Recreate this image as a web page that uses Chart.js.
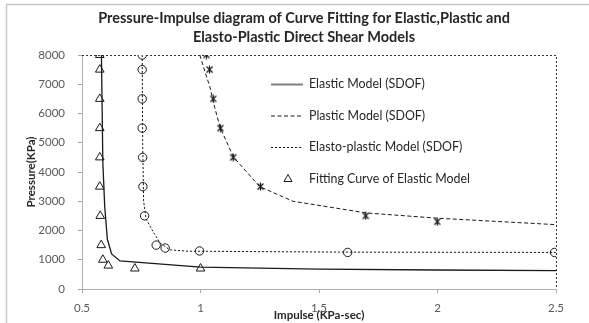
<!DOCTYPE html>
<html>
<head>
<meta charset="utf-8">
<script src="https://cdn.jsdelivr.net/npm/chart.js@4.4.1/dist/chart.umd.min.js"></script>
<style>
  html, body { margin: 0; padding: 0; background: #ffffff; }
  #wrap { width: 589px; height: 323px; position: relative; }
</style>
</head>
<body>
<div id="wrap"><canvas id="chart" width="589" height="323"></canvas></div>
<script>
// Elastic model (SDOF) curve
const elasticImpulse  = [0.582, 0.588, 0.596, 0.607, 0.625, 0.66, 1.0, 1.5, 2.0, 2.5];
const elasticPressure = [8000, 4300, 2800, 1700, 1200, 960, 750, 680, 650, 630];

// Plastic model (SDOF) curve
const plasticImpulse  = [0.997, 1.02, 1.04, 1.06, 1.084, 1.14, 1.25, 1.39, 1.7, 2.0, 2.5];
const plasticPressure = [8000, 7400, 6900, 6200, 5500, 4500, 3500, 3000, 2600, 2420, 2200];

// Elasto-plastic model (SDOF) curve
const elastoImpulse  = [0.754, 0.756, 0.76, 0.77, 0.8, 0.83, 0.87, 0.95, 1.0, 1.62, 2.5];
const elastoPressure = [8000, 5000, 3000, 2400, 1960, 1570, 1340, 1290, 1290, 1260, 1250];

// Fitting curve of elastic model (triangles)
const fitImpulse  = [0.575, 0.575, 0.575, 0.575, 0.575, 0.575, 0.577, 0.581, 0.588, 0.611, 0.723, 1.0];
const fitPressure = [8000, 7500, 6500, 5500, 4500, 3500, 2500, 1500, 1000, 800, 700, 700];

// Plastic model sample points (asterisks)
const plasticPtImpulse  = [1.025, 1.038, 1.054, 1.084, 1.138, 1.253, 1.697, 1.999];
const plasticPtPressure = [8000, 7500, 6500, 5500, 4500, 3500, 2500, 2300];

// Elasto-plastic model sample points (circles)
const elastoPtImpulse  = [0.754, 0.754, 0.754, 0.754, 0.756, 0.757, 0.764, 0.813, 0.851, 0.996, 1.621, 2.494];
const elastoPtPressure = [8000, 7500, 6500, 5500, 4500, 3500, 2500, 1500, 1400, 1300, 1250, 1250];

// Axis ticks
const xTicks = [0.5, 1, 1.5, 2, 2.5];
const yTicks = [0, 1000, 2000, 3000, 4000, 5000, 6000, 7000, 8000];

const titleLines = [
  'Pressure-Impulse diagram of Curve Fitting for Elastic,Plastic and',
  'Elasto-Plastic Direct Shear Models'
];

const FONT = 'Lato, "Open Sans", sans-serif';
const INK = '#1a1a1a';

function pts(xs, ys) { return xs.map((x, i) => ({ x: x, y: ys[i] })); }

// asterisk marker: an X crossed by a vertical stroke
function asteriskMarker() {
  const c = document.createElement('canvas');
  c.width = 9; c.height = 9;
  const g = c.getContext('2d');
  g.strokeStyle = INK; g.lineWidth = 1.2;
  g.beginPath();
  g.moveTo(1.5, 1.5); g.lineTo(7.5, 7.5);
  g.moveTo(7.5, 1.5); g.lineTo(1.5, 7.5);
  g.moveTo(4.5, 0.5); g.lineTo(4.5, 8.5);
  g.stroke();
  return c;
}

const datasets = [
  { label: 'Elastic Model (SDOF)', data: pts(elasticImpulse, elasticPressure),
    showLine: true, borderColor: INK, borderWidth: 1.3, pointRadius: 0, legendItem: true },
  { label: 'Plastic Model (SDOF)', data: pts(plasticImpulse, plasticPressure),
    showLine: true, borderColor: INK, borderWidth: 1, borderDash: [4, 2.5], pointRadius: 0, legendItem: true },
  { label: 'Elasto-plastic Model (SDOF)', data: pts(elastoImpulse, elastoPressure),
    showLine: true, borderColor: INK, borderWidth: 1, borderDash: [2.2, 1.8], pointRadius: 0, legendItem: true },
  { label: 'Fitting Curve of Elastic Model', data: pts(fitImpulse, fitPressure),
    showLine: false, pointStyle: 'triangle', pointRadius: 5, borderWidth: 1,
    borderColor: INK, backgroundColor: 'rgba(255,255,255,0)', legendItem: true },
  { label: 'Plastic points', data: pts(plasticPtImpulse, plasticPtPressure),
    showLine: false, pointStyle: asteriskMarker(), pointRadius: 4.5, borderColor: INK },
  { label: 'Elasto-plastic points', data: pts(elastoPtImpulse, elastoPtPressure),
    showLine: false, pointStyle: 'circle', pointRadius: 4.2, borderWidth: 1,
    borderColor: INK, backgroundColor: '#ffffff' }
];

// Outer chart frame, two-line title, dotted plot frame and in-plot legend
const decorations = {
  id: 'decorations',
  beforeDraw(chart) {
    const ctx = chart.ctx;
    ctx.save();
    ctx.fillStyle = '#ffffff';
    ctx.fillRect(0, 0, chart.width, chart.height);
    ctx.strokeStyle = '#c8c8c8';
    ctx.lineWidth = 1.5;
    ctx.beginPath();
    ctx.moveTo(6.5, chart.height + 2);
    ctx.lineTo(6.5, 4.5);
    ctx.lineTo(chart.width + 2, 4.5);
    ctx.stroke();
    ctx.fillStyle = '#262626';
    ctx.font = 'bold 14.5px ' + FONT;
    ctx.textAlign = 'center';
    ctx.textBaseline = 'middle';
    ctx.fillText(titleLines[0], 304, 18.5);
    ctx.fillText(titleLines[1], 304, 37);
    ctx.restore();
  },
  beforeDatasetsDraw(chart) {
    const ctx = chart.ctx, a = chart.chartArea;
    ctx.save();
    ctx.strokeStyle = '#333333';
    ctx.lineWidth = 1;
    ctx.setLineDash([2, 2]);
    ctx.beginPath();
    ctx.moveTo(a.left, a.top + 0.5);
    ctx.lineTo(a.right + 0.5, a.top + 0.5);
    ctx.lineTo(a.right + 0.5, a.bottom);
    ctx.stroke();
    ctx.restore();
  },
  afterDatasetsDraw(chart) {
    const ctx = chart.ctx;
    const x0 = 271, x1 = 303, tx = 309, y0 = 84, dy = 31.5;
    ctx.save();
    ctx.font = '12.4px ' + FONT;
    ctx.textBaseline = 'middle';
    ctx.textAlign = 'left';
    let row = 0;
    chart.data.datasets.forEach(ds => {
      if (!ds.legendItem) return;
      const y = y0 + row * dy;
      ctx.strokeStyle = ds.borderColor;
      if (ds.showLine) {
        ctx.lineWidth = ds.borderDash ? ds.borderWidth : 2;
        ctx.strokeStyle = ds.borderDash ? INK : '#7f7f7f';
        ctx.setLineDash(ds.borderDash || []);
        ctx.beginPath();
        ctx.moveTo(x0, y + 0.5);
        ctx.lineTo(x1, y + 0.5);
        ctx.stroke();
        ctx.setLineDash([]);
      } else {
        ctx.lineWidth = 1;
        const cx = (x0 + x1) / 2 + 1, r = 4;
        ctx.beginPath();
        ctx.moveTo(cx, y - r);
        ctx.lineTo(cx + r, y + r * 0.75);
        ctx.lineTo(cx - r, y + r * 0.75);
        ctx.closePath();
        ctx.stroke();
      }
      ctx.fillStyle = '#262626';
      ctx.fillText(ds.label, tx, y);
      row++;
    });
    ctx.restore();
  }
};

new Chart(document.getElementById('chart'), {
  type: 'scatter',
  data: { datasets: datasets },
  options: {
    responsive: false,
    animation: false,
    devicePixelRatio: 1,
    layout: { padding: { left: 0, right: 33, top: 55, bottom: 0 } },
    plugins: { legend: { display: false }, title: { display: false }, tooltip: { enabled: false } },
    scales: {
      x: {
        type: 'linear', min: 0.5, max: 2.5,
        afterBuildTicks: s => { s.ticks = xTicks.map(v => ({ value: v })); },
        afterFit: s => { s.height = 34; },
        grid: { display: true, drawOnChartArea: false, drawTicks: true, tickLength: 4, color: '#a6a6a6' },
        border: { display: true, color: '#b0b0b0', width: 1 },
        ticks: { font: { family: FONT, size: 11.5 }, color: '#595959', padding: 8, maxRotation: 0,
                 callback: v => String(v) },
        title: { display: true, text: 'Impulse (KPa-sec)', color: '#262626',
                 font: { family: FONT, size: 11.5, weight: 'bold' }, padding: { top: 0, bottom: 1 } }
      },
      y: {
        type: 'linear', min: 0, max: 8000,
        afterBuildTicks: s => { s.ticks = yTicks.map(v => ({ value: v })); },
        afterFit: s => { s.width = 82; },
        grid: { display: true, drawOnChartArea: false, drawTicks: true, tickLength: 4, color: '#a6a6a6' },
        border: { display: true, color: '#b0b0b0', width: 1 },
        ticks: { font: { family: FONT, size: 11.5 }, color: '#595959', padding: 13,
                 callback: v => String(v) },
        title: { display: true, text: 'Pressure(KPa)', color: '#262626',
                 font: { family: FONT, size: 11.5, weight: 'bold' }, padding: { top: 24, bottom: 0 } }
      }
    }
  },
  plugins: [decorations]
});
</script>
</body>
</html>
